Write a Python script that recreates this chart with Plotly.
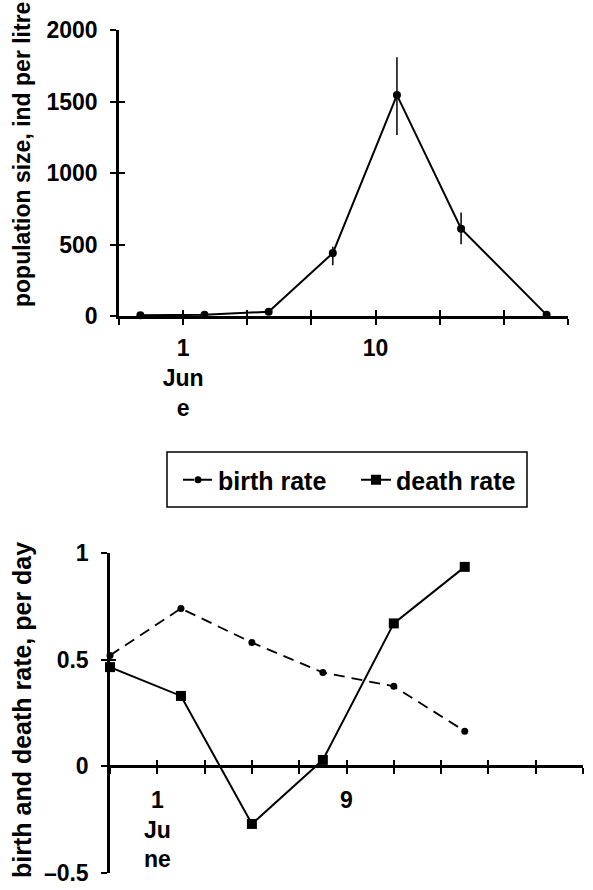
import plotly.graph_objects as go

# ---------------- data ----------------
# top panel: population size (ind per litre) by day (day 1 = 1 June)
pop_days = [-1, 2, 5, 8, 11, 14, 18]
pop_size = [5, 8, 30, 440, 1545, 611, 8]
pop_err_plus = [0, 0, 0, 45, 265, 112, 0]
pop_err_minus = [0, 0, 0, 85, 280, 110, 0]

# bottom panel: birth and death rate per day
rate_days = [-1, 2, 5, 8, 11, 14]
birth_rate = [0.52, 0.74, 0.58, 0.44, 0.375, 0.165]
death_rate = [0.465, 0.33, -0.27, 0.03, 0.67, 0.935]

top_xticks = [-2, 1, 4, 7, 10, 13, 16, 19]
top_xlabels = ["", "1<br>Jun<br>e", "", "", "10", "", "", ""]
top_yticks = [0, 500, 1000, 1500, 2000]
top_ylabels = ["0", "500", "1000", "1500", "2000"]

bot_xticks = [-1, 1, 3, 5, 7, 9, 11, 13, 15, 17, 19]
bot_xlabels = ["", "1<br>Ju<br>ne", "", "", "", "9", "", "", "", "", ""]
bot_yticks = [-0.5, 0, 0.5, 1]
bot_ylabels = ["\u20130.5", "0", "0.5", "1"]

# ---------------- layout helpers ----------------
W, H = 593, 890
FONT = "Liberation Sans, Arial, sans-serif"
TICKF = dict(family=FONT, size=23, color="black", weight="bold")


def px_x(p):
    return p / W


def px_y(p):
    return 1 - p / H


top_xdom = [px_x(119), px_x(568)]
top_ydom = [px_y(316), px_y(30)]
top_xr = [-2, 19]
top_yr = [0, 2000]

bot_xdom = [px_x(110), px_x(583)]
bot_ydom = [px_y(873), px_y(553)]
bot_xr = [-1, 19]
bot_yr = [-0.5, 1]
bot_zero_pos = bot_ydom[0] + (0 - bot_yr[0]) / (bot_yr[1] - bot_yr[0]) * (bot_ydom[1] - bot_ydom[0])

fig = go.Figure()

fig.add_trace(go.Scatter(
    x=pop_days, y=pop_size, mode="lines+markers", xaxis="x", yaxis="y",
    line=dict(color="black", width=2),
    marker=dict(symbol="circle", size=8, color="black"),
    error_y=dict(type="data", symmetric=False, array=pop_err_plus,
                 arrayminus=pop_err_minus, width=0, thickness=1.5, color="black"),
    showlegend=False, cliponaxis=False,
))

fig.add_trace(go.Scatter(
    x=rate_days, y=birth_rate, mode="lines+markers", name="birth rate",
    xaxis="x2", yaxis="y2",
    line=dict(color="black", width=1.8, dash="11px,7px"),
    marker=dict(symbol="circle", size=7, color="black"),
    cliponaxis=False,
))
fig.add_trace(go.Scatter(
    x=rate_days, y=death_rate, mode="lines+markers", name="death rate",
    xaxis="x2", yaxis="y2",
    line=dict(color="black", width=2),
    marker=dict(symbol="square", size=10, color="black"),
    cliponaxis=False,
))

common = dict(showgrid=False, zeroline=False, tickcolor="black", tickwidth=2, ticklen=6,
              fixedrange=True, tickfont=TICKF, tickmode="array", automargin=False)

fig.update_layout(
    width=W, height=H, margin=dict(l=0, r=0, t=0, b=0, autoexpand=False), autosize=False,
    paper_bgcolor="white", plot_bgcolor="rgba(0,0,0,0)",
    font=dict(family=FONT, color="black", weight="bold"),
    # main axes (outside half of the cross ticks, labels, axis lines)
    xaxis=dict(domain=top_xdom, range=top_xr, anchor="y", tickvals=top_xticks,
               ticktext=top_xlabels, ticks="outside", showline=True, linecolor="black",
               linewidth=2.5, ticklabelstandoff=4, **common),
    yaxis=dict(domain=top_ydom, range=top_yr, anchor="x", tickvals=top_yticks,
               ticktext=top_ylabels, ticks="outside", showline=True, linecolor="black",
               linewidth=2.5, ticklabelstandoff=8, **common),
    xaxis2=dict(domain=bot_xdom, range=bot_xr, anchor="free", position=bot_zero_pos,
                tickvals=bot_xticks, ticktext=bot_xlabels, ticks="outside", showline=True,
                linecolor="black", linewidth=2.5, ticklabelstandoff=6, **common),
    yaxis2=dict(domain=bot_ydom, range=bot_yr, anchor="x2", tickvals=bot_yticks,
                ticktext=bot_ylabels, ticks="outside", showline=True, linecolor="black",
                linewidth=2.5, ticklabelstandoff=8, **common),
    # twin axes on the same domains: inside half of the cross ticks
    xaxis3=dict(domain=top_xdom, range=top_xr, anchor="y3", tickvals=top_xticks,
                ticks="inside", showticklabels=False, showline=False, **common),
    yaxis3=dict(domain=top_ydom, range=top_yr, anchor="x3", tickvals=top_yticks,
                ticks="inside", showticklabels=False, showline=False, **common),
    xaxis4=dict(domain=bot_xdom, range=bot_xr, anchor="free", position=bot_zero_pos,
                tickvals=bot_xticks, ticks="inside", showticklabels=False,
                showline=False, **common),
    yaxis4=dict(domain=bot_ydom, range=bot_yr, anchor="x4", tickvals=bot_yticks,
                ticks="inside", showticklabels=False, showline=False, **common),
    legend=dict(orientation="h", xref="container", yref="container",
                x=px_x(178), y=px_y(480), xanchor="left",
                yanchor="middle", bgcolor="rgba(0,0,0,0)", borderwidth=0,
                font=dict(family=FONT, size=25, color="black", weight="bold"),
                itemwidth=30, entrywidth=133, entrywidthmode="pixels", tracegroupgap=0),
    shapes=[
        dict(type="rect", xref="paper", yref="paper", x0=px_x(167), x1=px_x(527),
             y0=px_y(507), y1=px_y(452), line=dict(color="black", width=1.5),
             fillcolor="rgba(0,0,0,0)", layer="below"),
    ],
    annotations=[
        dict(text="population size, ind per litre", textangle=-90, xref="paper", yref="paper",
             x=px_x(22), y=px_y(155), showarrow=False,
             xanchor="center", yanchor="middle",
             font=dict(family=FONT, size=23, color="black", weight="bold")),
        dict(text="birth and death rate, per day", textangle=-90, xref="paper", yref="paper",
             x=px_x(22), y=px_y(710), showarrow=False,
             xanchor="center", yanchor="middle",
             font=dict(family=FONT, size=25, color="black", weight="bold")),
    ],
)

# dummy (empty) traces so the twin tick axes exist as subplots
fig.add_trace(go.Scatter(x=[None], y=[None], xaxis="x3", yaxis="y3", showlegend=False,
                         hoverinfo="skip", mode="markers"))
fig.add_trace(go.Scatter(x=[None], y=[None], xaxis="x4", yaxis="y4", showlegend=False,
                         hoverinfo="skip", mode="markers"))

fig.write_html("out.html", config={"displayModeBar": False},
               post_script="document.body.style.margin='0px';"
               "document.body.style.overflow='hidden';")
